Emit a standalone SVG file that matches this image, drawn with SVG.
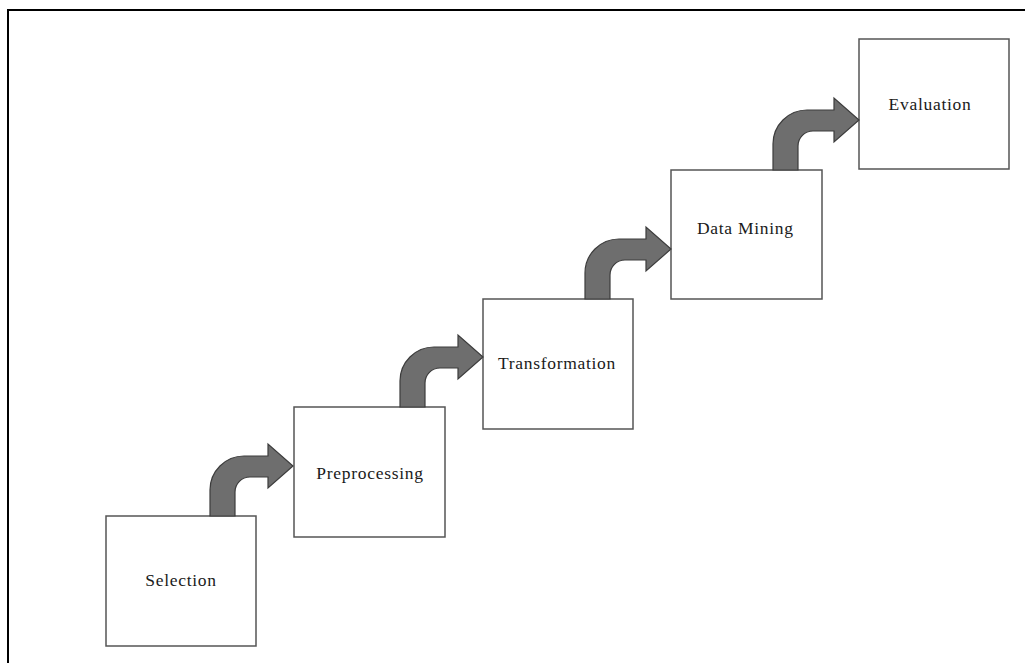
<svg xmlns="http://www.w3.org/2000/svg" width="1025" height="663" viewBox="0 0 1025 663">
  <style>
    .box { fill: #ffffff; stroke: #555555; stroke-width: 1.5; }
    .lbl { font-family: "Liberation Serif", "DejaVu Serif", serif; font-size: 17.5px; letter-spacing: 0.7px; fill: #1a1a1a; text-anchor: middle; }
    .arr { fill: #6e6e6e; stroke: #3c3c3c; stroke-width: 1.2; stroke-linejoin: miter; }
  </style>
  <rect x="0" y="0" width="1025" height="663" fill="#ffffff"/>
  <path d="M8,663 L8,10 L1025,10" fill="none" stroke="#000000" stroke-width="2"/>

  <g id="node-selection">
    <rect class="box" x="106" y="516" width="150" height="130"/>
    <text class="lbl" x="181" y="586">Selection</text>
  </g>
  <g id="node-preprocessing">
    <rect class="box" x="294" y="407" width="151" height="130"/>
    <text class="lbl" x="370" y="479">Preprocessing</text>
  </g>
  <g id="node-transformation">
    <rect class="box" x="483" y="299" width="150" height="130"/>
    <text class="lbl" x="557" y="369">Transformation</text>
  </g>
  <g id="node-datamining">
    <rect class="box" x="671" y="170" width="151" height="129"/>
    <text class="lbl" x="697" y="234" style="text-anchor:start">Data Mining</text>
  </g>
  <g id="node-evaluation">
    <rect class="box" x="859" y="39" width="150" height="130"/>
    <text class="lbl" x="930" y="110">Evaluation</text>
  </g>

  <g id="connectors">
    <path class="arr" d="M210,516 L210,490 A34,34 0 0 1 244,456 L268,456 L268,444 L293,466 L268,488 L268,477 L250,477 A15,15 0 0 0 235,492 L235,516 Z"/>
    <path class="arr" d="M400,407 L400,381 A34,34 0 0 1 434,347 L458,347 L458,335 L483,357 L458,379 L458,368 L440,368 A15,15 0 0 0 425,383 L425,407 Z"/>
    <path class="arr" d="M585,299 L585,273 A34,34 0 0 1 619,239 L646,239 L646,227 L671,249 L646,271 L646,260 L625,260 A15,15 0 0 0 610,275 L610,299 Z"/>
    <path class="arr" d="M773,170 L773,144 A34,34 0 0 1 807,110 L834,110 L834,98 L859,120 L834,142 L834,131 L813,131 A15,15 0 0 0 798,146 L798,170 Z"/>
  </g>
</svg>
